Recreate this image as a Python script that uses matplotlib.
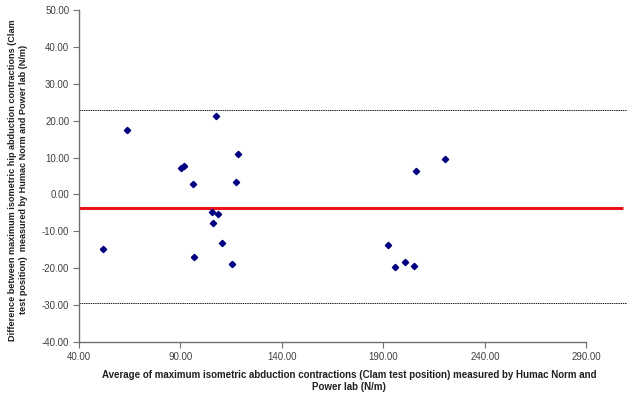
import matplotlib
matplotlib.use("Agg")
import matplotlib.pyplot as plt
import numpy as np

# Bland-Altman style data
avg_force = [51.7, 63.8, 107.5, 118.3, 90.2, 91.9, 96.3, 117.5, 105.5, 108.5,
             106.2, 110.5, 96.5, 115.5, 220.4, 205.9, 192.1, 195.8, 200.4, 204.9]
diff_force = [-14.8, 17.5, 21.3, 10.9, 7.1, 7.6, 2.7, 3.3, -4.8, -5.2,
              -7.7, -13.1, -17.0, -18.8, 9.5, 6.4, -13.7, -19.8, -18.4, -19.5]

mean_diff = -3.8
upper_loa = 23.0
lower_loa = -29.4

x_ticks = [40, 90, 140, 190, 240, 290]
y_ticks = [-40, -30, -20, -10, 0, 10, 20, 30, 40, 50]

xlabel = ("Average of maximum isometric abduction contractions (Clam test position) measured by Humac Norm and\n"
          "Power lab (N/m)")
ylabel = ("Difference between maximum isometric hip abduction contractions (Clam\n"
          "test position)  measured by Humac Norm and Power lab (N/m)")

plt.rcParams['font.family'] = ['Liberation Sans', 'DejaVu Sans']

fig = plt.figure(figsize=(6.31, 3.95), dpi=100)
ax = fig.add_axes([79 / 631, 53 / 395, 548 / 631, 332 / 395])

# limit lines
ax.plot([40, 310], [upper_loa, upper_loa], color="#202020", lw=0.7, ls=(0, (1.5, 0.8)))
ax.plot([40, 310], [lower_loa, lower_loa], color="#202020", lw=0.7, ls=(0, (1.5, 0.8)))
ax.plot([40, 308], [mean_diff, mean_diff], color="#e8141b", lw=2.2, solid_capstyle="butt")

ax.plot(avg_force, diff_force, ls="none", marker="D", ms=3.2, color="#000080")

ax.set_xlim(40, 310)
ax.set_ylim(-40, 50)
ax.set_xticks(x_ticks)
ax.set_yticks(y_ticks)
ax.set_xticklabels([f"{v:.2f}" for v in x_ticks])
ax.set_yticklabels([f"{v:.2f}" for v in y_ticks])

for s in ["top", "right"]:
    ax.spines[s].set_visible(False)
for s in ["left", "bottom"]:
    ax.spines[s].set_color("#707070")
    ax.spines[s].set_linewidth(1.0)
ax.spines["bottom"].set_bounds(40, 290)
ax.tick_params(direction="out", length=4, width=0.8, color="#707070",
               labelsize=7, labelcolor="#404040", pad=3)

fig.text(0.5535, 3 / 395, xlabel, ha="center", va="bottom", fontsize=7,
         fontweight="bold", color="#202020", linespacing=1.3)
fig.text(18 / 631, 0.545, ylabel, ha="center", va="center", rotation=90,
         fontsize=6.6, fontweight="bold", color="#202020", linespacing=1.3)

fig.savefig("out.png", dpi=100)
